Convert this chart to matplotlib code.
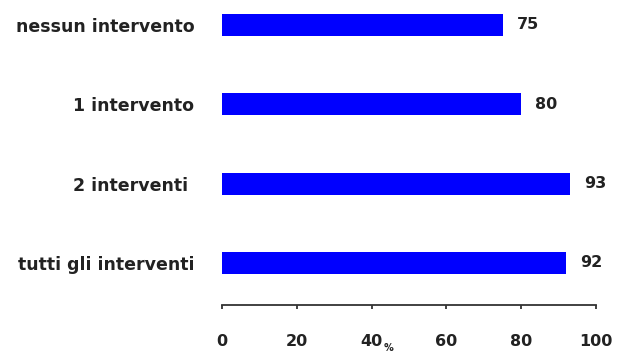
import matplotlib
matplotlib.use("Agg")
import matplotlib.pyplot as plt

categories = ["nessun intervento", "1 intervento", "2 interventi ", "tutti gli interventi"]
values = [75, 80, 93, 92]
xticks = [0, 20, 40, 60, 80, 100]

plt.rcParams["font.family"] = ["DejaVu Sans"]
plt.rcParams["font.weight"] = "bold"

fig = plt.figure(figsize=(6.21, 3.53), dpi=100)
ax = fig.add_axes([222 / 621, 48 / 353, 374 / 621, 305 / 353])

pos = list(range(len(categories)))[::-1]
ax.barh(pos, values, height=0.28, color="#0000ff")

for p, v in zip(pos, values):
    ax.annotate(str(v), (v, p), xytext=(10, 0), textcoords="offset points",
                va="center", ha="left", fontsize=11.5, fontweight="bold", color="#222222")

ax.set_xlim(0, 100)
ax.set_ylim(-0.53, 3.315)
ax.set_xticks(xticks)
ax.set_xticklabels([str(t) for t in xticks], fontsize=11.5, fontweight="bold", color="#222222")
ax.set_yticks(pos)
ax.set_yticklabels(categories, fontsize=12.5, fontweight="bold", color="#222222")

for s in ["top", "right", "left"]:
    ax.spines[s].set_visible(False)
ax.spines["bottom"].set_linewidth(1.3)
ax.spines["bottom"].set_color("#333333")
ax.tick_params(axis="y", length=0, pad=20)
ax.tick_params(axis="x", direction="out", length=3, width=1.3, color="#333333", pad=18)

ax.text(0.445, -0.14, "%", transform=ax.transAxes, fontsize=7, fontweight="bold",
        ha="center", va="center", color="#222222")

fig.savefig("out.png", dpi=100)
